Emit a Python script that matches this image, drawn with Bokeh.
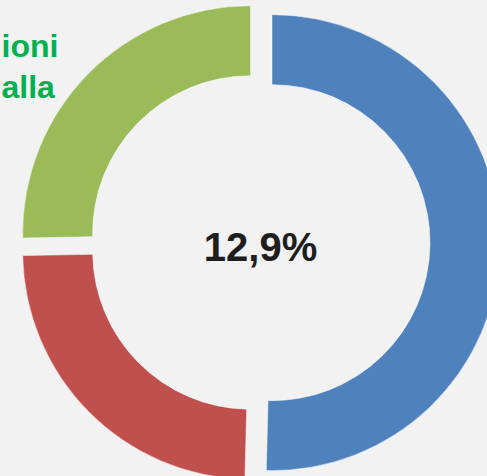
import math
from bokeh.plotting import figure
from bokeh.models import Range1d, ColumnDataSource
from bokeh.core.properties import value
from bokeh.embed import file_html
from bokeh.resources import INLINE

# ---- data ----
categories = ["A", "B", "C"]
shares = [50.4, 24.3, 25.3]          # percent, clockwise from 12 o'clock
colors = ["#4f81bd", "#c0504d", "#9bbb59"]
center_label = "12,9%"
side_lines = ["ioni", "alla"]

# ---- layout ----
W, H = 487, 476
CX, CY = 259, 242          # donut centre in screen pixels
R_OUT, R_IN = 228, 158
EXPLODE = 12.5

p = figure(width=W, height=H, output_backend="svg", toolbar_location=None,
           x_range=Range1d(-CX, W - CX), y_range=Range1d(-(H - CY), CY),
           min_border=0, background_fill_color="#f2f2f2",
           border_fill_color="#f2f2f2")
p.axis.visible = False
p.grid.visible = False
p.outline_line_color = None

total = sum(shares)
starts, ends, xs, ys = [], [], [], []
cum = 0.0
for v in shares:
    a_end = math.pi / 2 - 2 * math.pi * cum / total
    cum += v
    a_start = math.pi / 2 - 2 * math.pi * cum / total
    mid = (a_start + a_end) / 2
    starts.append(a_start)
    ends.append(a_end)
    xs.append(EXPLODE * math.cos(mid))
    ys.append(EXPLODE * math.sin(mid))

src = ColumnDataSource(dict(x=xs, y=ys, start=starts, end=ends,
                            color=colors, cat=categories))
p.annular_wedge(x="x", y="y", inner_radius=R_IN, outer_radius=R_OUT,
                start_angle="start", end_angle="end", direction="anticlock",
                fill_color="color", line_color="#ffffff", line_alpha=0.5,
                line_width=1, source=src)

p.text(x=[1], y=[-4], text=[center_label], text_align="center",
       text_baseline="alphabetic", text_font=value("Liberation Sans"),
       text_font_style="bold", text_font_size="40px", text_color="#1e1e1e")

p.text(x=[1 - CX, 1 - CX], y=[CY - 45, CY - 86], text=side_lines,
       text_align="left", text_baseline="alphabetic",
       text_font=value("Liberation Sans"), text_font_style="bold",
       text_font_size="32px", text_color="#00b050")

html = file_html(p, INLINE)
html = html.replace("<head>", "<head><style>html,body{margin:0;padding:0;background:#f2f2f2;overflow:hidden}</style>", 1)
open("out.html", "w").write(html)
